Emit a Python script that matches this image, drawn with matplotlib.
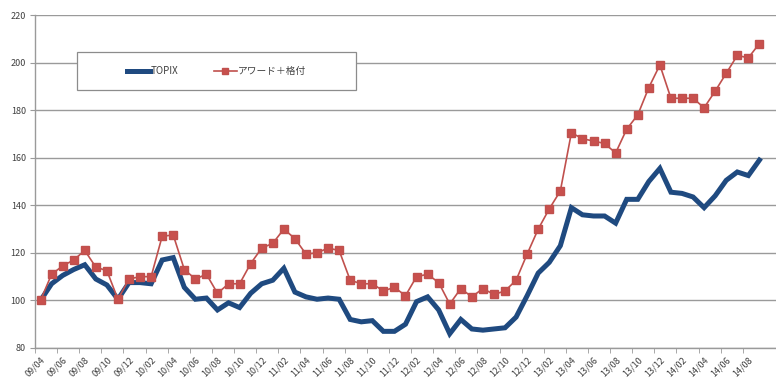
import matplotlib
matplotlib.use('Agg')
import matplotlib.pyplot as plt
from matplotlib.patches import Rectangle

plt.rcParams['font.family'] = ['Noto Sans CJK JP', 'DejaVu Sans']

# monthly index, 2009/04 = 100, through 2014/09
topix = [100, 107, 110.5, 113, 115, 109, 106.5, 100.5, 107.5, 107.5,
         107, 117, 118, 105.5, 100.5, 101, 96, 99, 97, 103,
         107, 108.5, 113.5, 103.5, 101.5, 100.5, 101, 100.5, 92, 91,
         91.5, 87, 87, 90, 99.5, 101.5, 96, 86, 92, 88,
         87.5, 88, 88.5, 93, 102, 111.5, 116, 123, 139, 136,
         135.5, 135.5, 132.5, 142.5, 142.5, 150, 155.5, 145.5, 145, 143.5,
         139, 144, 150.5, 154, 152.5, 159]
award = [100, 111, 114.5, 117, 121, 114, 112.5, 100.5, 109, 110,
         110, 127, 127.5, 113, 109, 111, 103, 107, 107, 115.5,
         122, 124, 130, 126, 119.5, 120, 122, 121, 108.5, 107,
         107, 104, 105.5, 102, 110, 111, 107.5, 98.5, 105, 101.5,
         105, 102.5, 104, 108.5, 119.5, 130, 138.5, 146, 170.5, 168,
         167, 166, 162, 172, 178, 189.5, 199, 185, 185, 185,
         181, 188, 195.5, 203, 202, 208]
tick_labels = ['09/04', '09/06', '09/08', '09/10', '09/12', '10/02', '10/04',
               '10/06', '10/08', '10/10', '10/12', '11/02', '11/04', '11/06',
               '11/08', '11/10', '11/12', '12/02', '12/04', '12/06', '12/08',
               '12/10', '12/12', '13/02', '13/04', '13/06', '13/08', '13/10',
               '13/12', '14/02', '14/04', '14/06', '14/08']

x = list(range(len(topix)))
grey = '#9a9a9a'
text_c = '#404040'

fig = plt.figure(figsize=(7.76, 3.79), dpi=100)
ax = fig.add_axes([0.0451, 0.0818, 0.9549, 0.8786])

ax.plot(x, topix, color='#1f4a80', lw=3.6, solid_joinstyle='miter',
        label='TOPIX', zorder=3)
ax.plot(x, award, color='#c0504d', lw=1.2, marker='s', ms=5.2,
        mec='#c0504d', mfc='#c8504d', label='アワード＋格付', zorder=4)

ax.set_ylim(80, 220)
ax.set_yticks(range(80, 221, 20))
ax.set_xlim(-0.5, 65.1)
ax.yaxis.grid(True, color=grey, lw=1.0)
ax.set_axisbelow(True)

for s in ['top', 'right']:
    ax.spines[s].set_visible(False)
for s in ['left', 'bottom']:
    ax.spines[s].set_color(grey)
    ax.spines[s].set_linewidth(1.0)

ax.set_xticks(x[::2])
ax.set_xticklabels(tick_labels, rotation=45, ha='right',
                   rotation_mode='anchor', fontsize=6.5, color=text_c)
ax.set_xticks([i - 0.5 for i in x[::2]] + [x[-1] + 1.5], minor=True)
ax.tick_params(axis='x', which='major', length=0, pad=5)
ax.tick_params(axis='x', which='minor', length=3.5, color=grey)
ax.tick_params(axis='y', length=3.5, color=grey, labelsize=6.5,
               labelcolor=text_c, pad=3)

# legend box
ax.add_patch(Rectangle((0.0567, 0.775), 0.3765, 0.114, transform=ax.transAxes,
                       facecolor='white', edgecolor='#8c8c8c', lw=0.9, zorder=5))
leg = ax.legend(loc='center', bbox_to_anchor=(0.245, 0.832), ncol=2,
                frameon=False, fontsize=7, handlelength=2.4,
                handletextpad=0.1, columnspacing=3.6, labelcolor=text_c)
leg.set_zorder(6)
for h in leg.get_lines():
    h.set_markersize(4)

fig.savefig('out.png', dpi=100)
